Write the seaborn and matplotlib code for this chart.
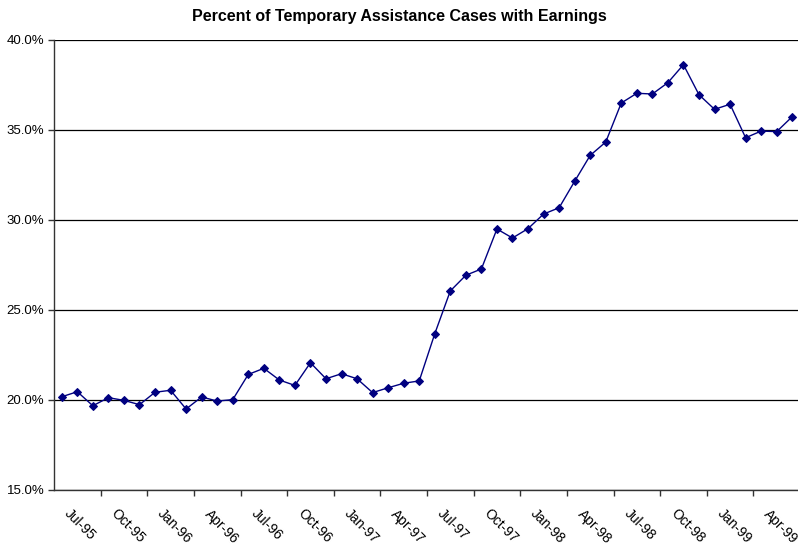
import matplotlib
matplotlib.use("Agg")
import matplotlib.pyplot as plt
import seaborn as sns
import pandas as pd
from matplotlib.ticker import FixedLocator, FuncFormatter

# Monthly share of Temporary Assistance cases with earnings, Jul-95 .. Jun-99
months = [
    "Jul-95", "Aug-95", "Sep-95", "Oct-95", "Nov-95", "Dec-95",
    "Jan-96", "Feb-96", "Mar-96", "Apr-96", "May-96", "Jun-96",
    "Jul-96", "Aug-96", "Sep-96", "Oct-96", "Nov-96", "Dec-96",
    "Jan-97", "Feb-97", "Mar-97", "Apr-97", "May-97", "Jun-97",
    "Jul-97", "Aug-97", "Sep-97", "Oct-97", "Nov-97", "Dec-97",
    "Jan-98", "Feb-98", "Mar-98", "Apr-98", "May-98", "Jun-98",
    "Jul-98", "Aug-98", "Sep-98", "Oct-98", "Nov-98", "Dec-98",
    "Jan-99", "Feb-99", "Mar-99", "Apr-99", "May-99", "Jun-99",
]
pct_with_earnings = [
    20.18, 20.46, 19.68, 20.13, 19.98, 19.74,
    20.43, 20.54, 19.50, 20.17, 19.94, 20.02,
    21.42, 21.76, 21.11, 20.81, 22.07, 21.18,
    21.46, 21.18, 20.41, 20.68, 20.93, 21.06,
    23.68, 26.06, 26.93, 27.28, 29.50, 29.00,
    29.52, 30.33, 30.68, 32.15, 33.59, 34.33,
    36.50, 37.04, 37.00, 37.63, 38.63, 36.96,
    36.15, 36.43, 34.57, 34.94, 34.91, 35.74,
]
y_ticks = [15, 20, 25, 30, 35, 40]

df = pd.DataFrame({"idx": range(len(months)), "month": months,
                   "pct": pct_with_earnings})

sns.set_style("white")
plt.rcParams["font.family"] = ["Liberation Sans", "DejaVu Sans"]

fig = plt.figure(figsize=(7.98, 5.48), dpi=100)
ax = fig.add_axes([54 / 798, 58 / 548, 746 / 798, 450 / 548])

sns.lineplot(data=df, x="idx", y="pct", ax=ax, color="#000080",
             linewidth=1.0, marker="D", markersize=4.5,
             markeredgecolor="#000080", markerfacecolor="#000080")

ax.set_xlim(-0.5, len(months) - 0.5)
ax.set_ylim(y_ticks[0], y_ticks[-1])

# horizontal gridlines
ax.set_yticks(y_ticks)
ax.yaxis.set_major_formatter(FuncFormatter(lambda v, p: f"{v:.1f}%"))
ax.grid(axis="y", color="black", linewidth=0.9)
ax.grid(axis="x", visible=False)
ax.set_axisbelow(True)

# x: tick marks between quarters, labels every third month
n = len(months)
ax.xaxis.set_major_locator(FixedLocator([i + 2.5 for i in range(0, n, 3)]))
ax.xaxis.set_major_formatter(FuncFormatter(lambda v, p: ""))
label_pos = list(range(0, n, 3))
ax.xaxis.set_minor_locator(FixedLocator(label_pos))
ax.set_xticklabels([months[i] for i in label_pos], minor=True,
                   rotation=-45, ha="left", va="top",
                   rotation_mode="default", fontsize=10, color="black")
ax.tick_params(axis="x", which="major", direction="out", length=4,
               width=1, color="#333333", bottom=True)
ax.tick_params(axis="x", which="minor", length=0, pad=12)
ax.tick_params(axis="y", which="major", direction="out", length=4,
               width=1, color="#333333", left=True, labelsize=9.5,
               labelcolor="black", pad=3)

for side in ("top", "right"):
    ax.spines[side].set_visible(False)
for side in ("left", "bottom"):
    ax.spines[side].set_color("#333333")
    ax.spines[side].set_linewidth(1.0)

ax.set_xlabel("")
ax.set_ylabel("")

fig.text(399 / 798, 1 - 17 / 548,
         "Percent of Temporary Assistance Cases with Earnings",
         ha="center", va="center", fontsize=11.5, fontweight="bold",
         color="black")

fig.savefig("out.png", dpi=100, facecolor="white")
